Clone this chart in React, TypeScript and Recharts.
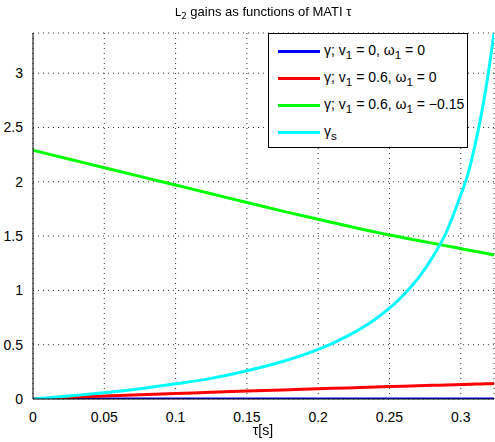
import React from "react";
import { LineChart, Line, XAxis, YAxis, CartesianGrid } from "recharts";

const tau = [0, 0.025, 0.05, 0.075, 0.1, 0.125, 0.15, 0.175, 0.2, 0.21, 0.22, 0.23, 0.24, 0.25, 0.26, 0.27, 0.28, 0.29, 0.3, 0.305, 0.31, 0.315, 0.32, 0.3233];
const gammaBlue = [0, 0, 0, 0, 0, 0, 0, 0, 0, 0, 0, 0, 0, 0, 0, 0, 0, 0, 0, 0, 0, 0, 0, 0];
const gammaRed = [0, 0.014, 0.028, 0.039, 0.05, 0.062, 0.073, 0.084, 0.094, 0.098, 0.102, 0.106, 0.11, 0.114, 0.118, 0.122, 0.126, 0.129, 0.133, 0.135, 0.137, 0.139, 0.141, 0.143];
const gammaGreen = [2.29, 2.21, 2.13, 2.05, 1.97, 1.89, 1.81, 1.73, 1.655, 1.625, 1.595, 1.565, 1.537, 1.51, 1.485, 1.46, 1.435, 1.41, 1.385, 1.372, 1.36, 1.348, 1.335, 1.325];
const gammaS = [0, 0.027, 0.058, 0.095, 0.14, 0.19, 0.26, 0.345, 0.457, 0.513, 0.576, 0.649, 0.735, 0.836, 0.96, 1.11, 1.3, 1.54, 1.88, 2.07, 2.34, 2.66, 3.06, 3.37];

const xTicks = [0, 0.05, 0.1, 0.15, 0.2, 0.25, 0.3];
const yTicks = [0, 0.5, 1, 1.5, 2, 2.5, 3];

const data = tau.map((t, i) => ({ t, blue: gammaBlue[i], red: gammaRed[i], green: gammaGreen[i], cyan: gammaS[i] }));

const font = "'Liberation Sans', Arial, sans-serif";

const legendItems = [
  { color: "#0000ff", label: <>γ; v<sub>1</sub> = 0, ω<sub>1</sub> = 0</> },
  { color: "#ff0000", label: <>γ; v<sub>1</sub> = 0.6, ω<sub>1</sub> = 0</> },
  { color: "#00ff00", label: <>γ; v<sub>1</sub> = 0.6, ω<sub>1</sub> = −0.15</> },
  { color: "#00ffff", label: <>γ<sub>s</sub></> },
];

export default function App() {
  const tickStyle = { fill: "#000", fontSize: 14, fontFamily: font };
  return (
    <div style={{ position: "fixed", left: 0, top: 0, width: 495, height: 442, background: "#fff", fontFamily: font }}>
      <LineChart width={495} height={442} data={data} margin={{ top: 33, right: 1, left: 0, bottom: 23 }}>
        <CartesianGrid stroke="#333" strokeDasharray="1 4" />
        <XAxis dataKey="t" type="number" domain={[0, 0.3233]} ticks={xTicks} allowDataOverflow
          tick={tickStyle} tickLine={false} axisLine={{ stroke: "#000" }} tickMargin={7} height={20} />
        <XAxis xAxisId="top" orientation="top" dataKey="t" type="number" domain={[0, 0.3233]} tick={false} tickLine={false} axisLine={{ stroke: "#000" }} height={0} />
        <YAxis type="number" domain={[0, 3.37]} ticks={yTicks} allowDataOverflow
          tick={tickStyle} tickLine={false} axisLine={{ stroke: "#000" }} tickMargin={4} width={33} />
        <YAxis yAxisId="right" orientation="right" domain={[0, 3.37]} tick={false} tickLine={false} axisLine={{ stroke: "#000" }} width={0} />
        <Line dataKey="blue" stroke="#0000ff" strokeWidth={3} dot={false} isAnimationActive={false} type="linear" />
        <Line dataKey="red" stroke="#ff0000" strokeWidth={3} dot={false} isAnimationActive={false} type="monotone" />
        <Line dataKey="green" stroke="#00ff00" strokeWidth={3} dot={false} isAnimationActive={false} type="monotone" />
        <Line dataKey="cyan" stroke="#00ffff" strokeWidth={3} dot={false} isAnimationActive={false} type="monotone" />
      </LineChart>
      <div style={{ position: "absolute", left: 0, width: 526, top: 4, textAlign: "center", fontSize: 13 }}>
        <span style={{ fontFamily: "'DejaVu Sans Mono', monospace", fontSize: 11 }}>L<sub style={{ fontSize: 9 }}>2</sub></span> gains as functions of MATI τ
      </div>
      <div style={{ position: "absolute", left: 268, top: 33, width: 198, height: 113, border: "1px solid #000", background: "#fff" }}>
        {legendItems.map((it, i) => (
          <div key={i} style={{ position: "absolute", left: 9, top: 7 + i * 27, height: 20, display: "flex", alignItems: "center", fontSize: 14, whiteSpace: "nowrap" }}>
            <div style={{ width: 42, height: 3, background: it.color, marginRight: 4 }} />
            <span>{it.label}</span>
          </div>
        ))}
      </div>
      <div style={{ position: "absolute", left: 0, width: 526, top: 422, textAlign: "center", fontSize: 14 }}>τ[s]</div>
    </div>
  );
}
